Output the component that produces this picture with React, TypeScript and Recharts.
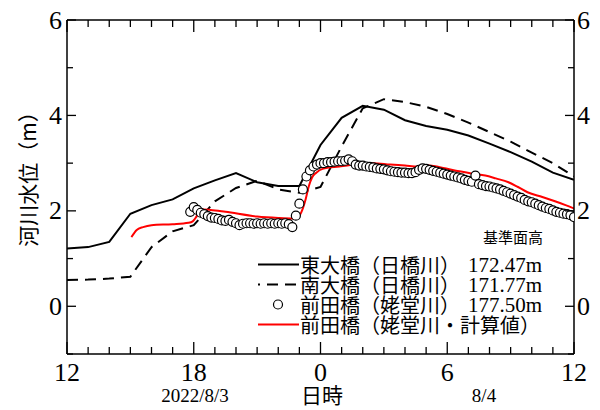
import { Line, LineChart, XAxis, YAxis } from "recharts";

const SERIF = '"Liberation Serif", "Times New Roman", serif';
const SANS = '"Noto Sans CJK JP", "Noto Sans", sans-serif';

// x = hours since 2022/8/3 12:00
const hourTicks = [0, 1, 2, 3, 4, 5, 6, 7, 8, 9, 10, 11, 12, 13, 14, 15, 16, 17, 18, 19, 20, 21, 22, 23, 24];
const hourLabels: Record<number, string> = { 0: "12", 6: "18", 12: "0", 18: "6", 24: "12" };
const levelTicks = [-1, 0, 1, 2, 3, 4, 5, 6];
const levelLabels: Record<number, string> = { 0: "0", 2: "2", 4: "4", 6: "6" };

// 東大橋（日橋川）hourly
const eastHours = [0, 1, 2, 3, 4, 5, 6, 7, 8, 9, 10, 11, 12, 13, 14, 15, 16, 17, 18, 19, 20, 21, 22, 23, 24];
const eastLevel = [1.21, 1.24, 1.35, 1.94, 2.12, 2.24, 2.47, 2.64, 2.79, 2.6, 2.52, 2.52, 3.38, 3.95, 4.2, 4.12, 3.9, 3.78, 3.7, 3.58, 3.41, 3.23, 3.03, 2.8, 2.65];

// 南大橋（日橋川）hourly
const southHours = [0, 1, 2, 3, 4, 5, 6, 7, 8, 9, 10, 11, 12, 13, 14, 15, 16, 17, 18, 19, 20, 21, 22, 23, 24];
const southLevel = [0.55, 0.56, 0.58, 0.62, 1.24, 1.57, 1.7, 2.2, 2.48, 2.63, 2.45, 2.38, 2.5, 3.35, 4.15, 4.34, 4.28, 4.18, 4.03, 3.85, 3.65, 3.45, 3.22, 3.0, 2.72];

// 前田橋（姥堂川）observed, every 10 min from 17:50
const maedaStart = 35 / 6;
const maedaObs = [
  1.98, 2.08, 2.02, 1.96, 1.93, 1.89, 1.86, 1.85, 1.83, 1.8, 1.79, 1.81,
  1.77, 1.74, 1.7, 1.73, 1.74, 1.74, 1.73, 1.74, 1.73, 1.74, 1.73, 1.74,
  1.73, 1.74, 1.73, 1.74, 1.72, 1.66, 1.9, 2.15, 2.45, 2.72, 2.85, 2.93,
  2.97, 3.0, 3.0, 3.02, 3.02, 3.03, 3.04, 3.04, 3.05, 3.08, 3.04, 2.97,
  2.95, 2.95, 2.93, 2.92, 2.91, 2.89, 2.88, 2.87, 2.85, 2.83, 2.82, 2.81,
  2.8, 2.8, 2.79, 2.79, 2.81, 2.86, 2.89, 2.88, 2.86, 2.84, 2.82, 2.8,
  2.78, 2.76, 2.74, 2.72, 2.7, 2.68, 2.65, 2.63, 2.61, 2.74, 2.56, 2.54,
  2.52, 2.51, 2.49, 2.47, 2.45, 2.42, 2.39, 2.36, 2.33, 2.3, 2.27, 2.23,
  2.2, 2.18, 2.15, 2.12, 2.09, 2.06, 2.04, 2.01, 1.98, 1.96, 1.94, 1.93,
  1.91, 1.87
];

// 前田橋（姥堂川・計算値）
const calcHours = [3.05, 3.3, 3.6, 4.0, 5.0, 5.75, 5.95, 6.1, 6.25, 6.45, 6.8, 7.5, 9.0, 10.0, 10.7, 10.9, 11.1, 11.3, 11.45, 11.6, 11.8, 12.1, 12.9, 13.4, 13.7, 14.5, 15.3, 16.0, 16.6, 17.1, 17.6, 18.2, 19.2, 19.8, 20.3, 20.9, 21.35, 21.8, 22.5, 23.1, 23.6, 24.0];
const calcLevel = [1.45, 1.6, 1.66, 1.7, 1.72, 1.75, 1.78, 1.86, 1.98, 2.03, 2.02, 1.98, 1.88, 1.85, 1.84, 1.86, 1.98, 2.25, 2.52, 2.7, 2.8, 2.88, 2.93, 2.96, 3.0, 3.0, 2.97, 2.95, 2.93, 2.95, 2.92, 2.86, 2.78, 2.74, 2.68, 2.6, 2.5, 2.39, 2.29, 2.2, 2.12, 2.05];

const eastData = eastHours.map((h, i) => ({ h, v: eastLevel[i] }));
const southData = southHours.map((h, i) => ({ h, v: southLevel[i] }));
const obsData = maedaObs.map((v, i) => ({ h: maedaStart + i / 6, v }));
const calcData = calcHours.map((h, i) => ({ h, v: calcLevel[i] }));

function HourTick(props: any) {
  const { x, y, payload, top } = props;
  const major = payload.value % 6 === 0;
  const len = major ? 12 : 7;
  return (
    <g>
      <line x1={x} x2={x} y1={y} y2={top ? y + len : y - len} stroke="#000" strokeWidth={1.3} />
      {!top && major ? (
        <text x={x} y={y + 18} textAnchor="middle" dominantBaseline="central" fontSize={26} fontFamily={SERIF} fill="#000">
          {hourLabels[payload.value]}
        </text>
      ) : null}
    </g>
  );
}

function LevelTick(props: any) {
  const { x, y, payload, right } = props;
  const major = payload.value % 2 === 0;
  const len = major ? 9 : 6;
  const label = levelLabels[payload.value];
  return (
    <g>
      <line x1={x} x2={right ? x - len : x + len} y1={y} y2={y} stroke="#000" strokeWidth={1.3} />
      {label ? (
        <text
          x={right ? x + 3 : x - 5}
          y={y}
          textAnchor={right ? "start" : "end"}
          dominantBaseline="central"
          fontSize={26}
          fontFamily={SERIF}
          fill="#000"
        >
          {label}
        </text>
      ) : null}
    </g>
  );
}

function LegendOverlay() {
  const rows = [
    { name: "東大橋（日橋川）", value: "172.47m", kind: "solid" },
    { name: "南大橋（日橋川）", value: "171.77m", kind: "dash" },
    { name: "前田橋（姥堂川）", value: "177.50m", kind: "dot" },
    { name: "前田橋（姥堂川・計算値）", value: "", kind: "red" }
  ];
  return (
    <svg width={600} height={410} style={{ position: "absolute", left: 0, top: 0, pointerEvents: "none" }}>
      <text x={543} y={236} textAnchor="end" dominantBaseline="central" fontSize={15} fontFamily={SANS} fill="#000">
        基準面高
      </text>
      {rows.map((r, i) => {
        const y = 264.5 + i * 20;
        return (
          <g key={r.name}>
            {r.kind === "solid" ? <line x1={258} x2={299} y1={y} y2={y} stroke="#000" strokeWidth={2} /> : null}
            {r.kind === "dash" ? (
              <line x1={258} x2={299} y1={y} y2={y} stroke="#000" strokeWidth={2} strokeDasharray="11 7" strokeDashoffset={9} />
            ) : null}
            {r.kind === "dot" ? <circle cx={278} cy={y} r={4.5} fill="#fff" stroke="#000" strokeWidth={1.2} /> : null}
            {r.kind === "red" ? <line x1={258} x2={299} y1={y} y2={y} stroke="#ff0000" strokeWidth={2} /> : null}
            <text x={300} y={y} dominantBaseline="central" fontSize={20} fontFamily={SANS} fill="#000">
              {r.name}
            </text>
            {r.value ? (
              <text x={468} y={y} dominantBaseline="central" fontSize={21} fontFamily={SERIF} fill="#000">
                {r.value}
              </text>
            ) : null}
          </g>
        );
      })}
      <text x={195} y={395} textAnchor="middle" dominantBaseline="central" fontSize={19} fontFamily={SERIF} fill="#000">
        2022/8/3
      </text>
      <text x={484} y={395} textAnchor="middle" dominantBaseline="central" fontSize={19} fontFamily={SERIF} fill="#000">
        8/4
      </text>
      <text x={322} y={394} textAnchor="middle" dominantBaseline="central" fontSize={21} fontFamily={SANS} fill="#000">
        日時
      </text>
      <text
        x={27}
        y={174}
        transform="rotate(-90 27 174)"
        textAnchor="middle"
        dominantBaseline="central"
        fontSize={21}
        fontFamily={SANS}
        fill="#000"
      >
        河川水位（m）
      </text>
    </svg>
  );
}

export default function App() {
  return (
    <div style={{ position: "absolute", left: 0, top: 0, width: 600, height: 410, background: "#fff" }}>
      <LineChart width={600} height={410} margin={{ top: 19, right: 25, bottom: 55, left: 66 }}>
        <XAxis
          xAxisId="bottom"
          dataKey="h"
          type="number"
          domain={[0, 24]}
          ticks={hourTicks}
          interval={0}
          height={1}
          tickSize={0}
          tickMargin={0}
          tickLine={false}
          axisLine={{ stroke: "#000", strokeWidth: 1.5 }}
          tick={(p: any) => <HourTick {...p} />}
          allowDataOverflow
        />
        <XAxis
          xAxisId="top"
          orientation="top"
          dataKey="h"
          type="number"
          domain={[0, 24]}
          ticks={hourTicks}
          interval={0}
          height={1}
          tickSize={0}
          tickMargin={0}
          tickLine={false}
          axisLine={{ stroke: "#000", strokeWidth: 1.5 }}
          tick={(p: any) => <HourTick {...p} top />}
          allowDataOverflow
        />
        <YAxis
          yAxisId="left"
          type="number"
          domain={[-1, 6]}
          ticks={levelTicks}
          interval={0}
          width={1}
          tickSize={0}
          tickMargin={0}
          tickLine={false}
          axisLine={{ stroke: "#000", strokeWidth: 1.5 }}
          tick={(p: any) => <LevelTick {...p} />}
          allowDataOverflow
        />
        <YAxis
          yAxisId="right"
          orientation="right"
          type="number"
          domain={[-1, 6]}
          ticks={levelTicks}
          interval={0}
          width={1}
          tickSize={0}
          tickMargin={0}
          tickLine={false}
          axisLine={{ stroke: "#000", strokeWidth: 1.5 }}
          tick={(p: any) => <LevelTick {...p} right />}
          allowDataOverflow
        />
        <Line
          xAxisId="top"
          yAxisId="right"
          data={eastData}
          dataKey="v"
          stroke="none"
          dot={false}
          activeDot={false}
          legendType="none"
          isAnimationActive={false}
        />
        <Line
          xAxisId="bottom"
          yAxisId="left"
          data={eastData}
          dataKey="v"
          type="linear"
          stroke="#000"
          strokeWidth={2}
          dot={false}
          activeDot={false}
          isAnimationActive={false}
        />
        <Line
          xAxisId="bottom"
          yAxisId="left"
          data={southData}
          dataKey="v"
          type="linear"
          stroke="#000"
          strokeWidth={2}
          strokeDasharray="11 7"
          dot={false}
          activeDot={false}
          isAnimationActive={false}
        />
        <Line
          xAxisId="bottom"
          yAxisId="left"
          data={obsData}
          dataKey="v"
          stroke="none"
          dot={{ r: 4.5, fill: "#fff", stroke: "#000", strokeWidth: 1.2 }}
          activeDot={false}
          isAnimationActive={false}
        />
        <Line
          xAxisId="bottom"
          yAxisId="left"
          data={calcData}
          dataKey="v"
          type="monotone"
          stroke="#ff0000"
          strokeWidth={2}
          dot={false}
          activeDot={false}
          isAnimationActive={false}
        />
      </LineChart>
      <LegendOverlay />
    </div>
  );
}
